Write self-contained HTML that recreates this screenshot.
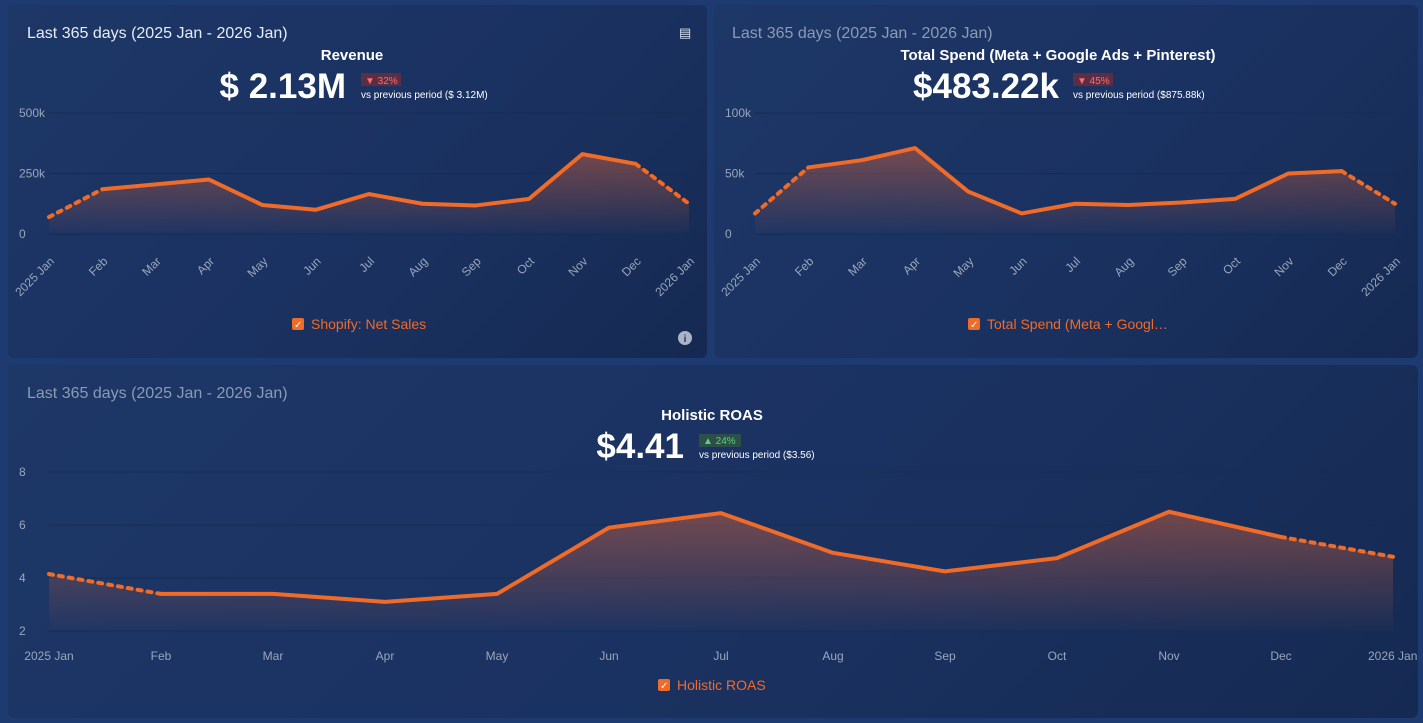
<!DOCTYPE html>
<html><head><meta charset="utf-8"><style>
body{margin:0;width:1423px;height:723px;background:#1d3b70;font-family:"Liberation Sans",sans-serif;overflow:hidden;position:relative}
.panel{position:absolute;border-radius:6px;background:linear-gradient(135deg,#1d3767 0%,#1a3160 60%,#152a52 100%)}
svg{position:absolute;left:0;top:0}
text{font-family:"Liberation Sans",sans-serif}
</style></head><body>
<div class="panel" style="left:8px;top:5px;width:699px;height:353px"></div>
<div class="panel" style="left:714px;top:5px;width:704px;height:353px"></div>
<div class="panel" style="left:8px;top:365px;width:1410px;height:353px"></div>
<svg id="s" width="1423" height="723">
<defs><linearGradient id="g" x1="0" y1="0" x2="0" y2="1"><stop offset="0" stop-color="#e0663a" stop-opacity="0.45"/><stop offset="1" stop-color="#e0663a" stop-opacity="0.02"/></linearGradient></defs>
<text x="27" y="38" font-size="16" fill="#e8ecf4">Last 365 days (2025 Jan - 2026 Jan)</text>
<text x="352" y="60" font-size="15" font-weight="bold" fill="#fff" text-anchor="middle">Revenue</text>
<text x="346" y="98" font-size="35" font-weight="bold" fill="#fff" text-anchor="end">$ 2.13M</text>
<rect x="361" y="73" width="40" height="13" fill="#5a2f45"/>
<text x="365" y="84" font-size="10" fill="#ff6b6b">▼ 32%</text>
<text x="361" y="98" font-size="10" fill="#fff">vs previous period ($ 3.12M)</text>
<text x="679" y="37" font-size="13" fill="#dfe6f2">▤</text>
<circle cx="685" cy="338" r="7" fill="#aab4c4"/><text x="685" y="342" font-size="10" font-weight="bold" fill="#1d3767" text-anchor="middle">i</text>

<text x="732" y="38" font-size="16" fill="#8d9ab3">Last 365 days (2025 Jan - 2026 Jan)</text>
<text x="1058" y="60" font-size="15" font-weight="bold" fill="#fff" text-anchor="middle">Total Spend (Meta + Google Ads + Pinterest)</text>
<text x="1059" y="98" font-size="35" font-weight="bold" fill="#fff" text-anchor="end">$483.22k</text>
<rect x="1073" y="73" width="40" height="13" fill="#5a2f45"/>
<text x="1077" y="84" font-size="10" fill="#ff6b6b">▼ 45%</text>
<text x="1073" y="98" font-size="10" fill="#fff">vs previous period ($875.88k)</text>

<text x="27" y="398" font-size="16" fill="#8d9ab3">Last 365 days (2025 Jan - 2026 Jan)</text>
<text x="712" y="420" font-size="15" font-weight="bold" fill="#fff" text-anchor="middle">Holistic ROAS</text>
<text x="684" y="458" font-size="35" font-weight="bold" fill="#fff" text-anchor="end">$4.41</text>
<rect x="699" y="434" width="42" height="13" fill="#2c5048"/>
<text x="703" y="444" font-size="10" fill="#5fd07a">▲ 24%</text>
<text x="699" y="458" font-size="10" fill="#fff">vs previous period ($3.56)</text>
</svg>
<script>
const months=["2025 Jan","Feb","Mar","Apr","May","Jun","Jul","Aug","Sep","Oct","Nov","Dec","2026 Jan"];
const revenue=[70,185,205,225,120,100,165,125,118,145,330,290,125];
const revTicks=[0,250,500];
const spend=[17,55,61,71,35,17,25,24,26,29,50,52,25];
const spendTicks=[0,50,100];
const roas=[4.15,3.4,3.4,3.1,3.4,5.9,6.45,4.95,4.25,4.75,6.5,5.55,4.8];
const roasTicks=[2,4,6,8];
const NS="http://www.w3.org/2000/svg",svg=document.getElementById('s');
function mk(t,a,p){const e=document.createElementNS(NS,t);for(const k in a)e.setAttribute(k,a[k]);(p||svg).appendChild(e);return e;}
function chart(id,vals,ticks,min,max,x0,x1,yb,yt,fmt,rot,legend,lx,tx0,legDy){
  const X=i=>x0+(x1-x0)*i/(vals.length-1), Y=v=>yb-(v-min)/(max-min)*(yb-yt);
  ticks.forEach(t=>{const l=mk('line',{x1:x0,x2:x1,y1:Y(t),y2:Y(t),stroke:'#152c52','stroke-width':1});
    
    const tx=mk('text',{x:tx0,y:Y(t)+4,'font-size':12,fill:'#9aa6bb'});tx.textContent=fmt(t);
    });
  let d='M'+X(0)+','+yb;vals.forEach((v,i)=>d+='L'+X(i)+','+Y(v));d+='L'+X(vals.length-1)+','+yb+'Z';
  const a=mk('path',{d:d,fill:'url(#g)'});
  const n=vals.length;
  const s1=mk('path',{d:`M${X(0)},${Y(vals[0])}L${X(1)},${Y(vals[1])}`,stroke:'#f06a28','stroke-width':4,fill:'none','stroke-dasharray':'4 6','stroke-linecap':'round'});
  
  let m='';for(let i=1;i<n-1;i++)m+=(i==1?'M':'L')+X(i)+','+Y(vals[i]);
  const ln=mk('path',{d:m,stroke:'#f06a28','stroke-width':4,fill:'none','stroke-linejoin':'round'});
  
  const s2=mk('path',{d:`M${X(n-2)},${Y(vals[n-2])}L${X(n-1)},${Y(vals[n-1])}`,stroke:'#f06a28','stroke-width':4,fill:'none','stroke-dasharray':'4 6','stroke-linecap':'round'});
  
  months.forEach((mo,i)=>{let t;
    if(rot){t=mk('text',{x:X(i)+6,y:yb+28,'font-size':12,fill:'#9aa6bb','text-anchor':'end',transform:`rotate(-45 ${X(i)+6} ${yb+28})`});}
    else{t=mk('text',{x:X(i),y:yb+29,'font-size':12,fill:'#9aa6bb','text-anchor':'middle'});if(i==n-1){t.setAttribute('x',X(i)-25);t.setAttribute('text-anchor','start');}}
    t.textContent=mo;});
  const r=mk('rect',{x:lx,y:yb+legDy,width:12,height:12,rx:2,fill:'#f06a28'});
  
  const c=mk('text',{x:lx+2,y:yb+legDy+10,'font-size':10,fill:'#fff'});c.textContent='✓';
  const lt=mk('text',{x:lx+19,y:yb+legDy+11,'font-size':14,fill:'#f06a28'});lt.textContent=legend;
  
}
chart('revenue',revenue,revTicks,0,500,49,689,234,113,t=>t?t+'k':'0',true,'Shopify: Net Sales',292,19,84);
chart('spend',spend,spendTicks,0,100,755,1395,234,113,t=>t?t+'k':'0',true,'Total Spend (Meta + Googl…',968,725,84);
chart('roas',roas,roasTicks,2,8,49,1393,631,472,t=>String(t),false,'Holistic ROAS',658,19,48);
</script>
</body></html>
